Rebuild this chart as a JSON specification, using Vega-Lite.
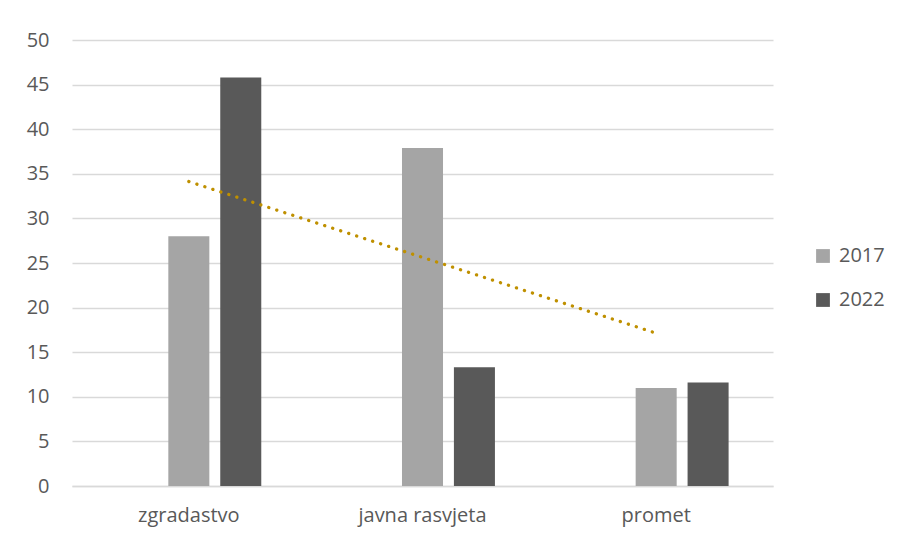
{
  "$schema": "https://vega.github.io/schema/vega-lite/v6.json",
  "width": 701,
  "height": 446,
  "autosize": {"type": "none"},
  "padding": {"left": 72, "top": 40, "right": 130, "bottom": 56},
  "background": "white",
  "config": {
    "view": {"stroke": null},
    "font": "Open Sans",
    "axis": {"labelFont": "Open Sans", "labelColor": "#595959", "labelFontSize": 20, "gridColor": "#D9D9D9", "gridWidth": 1.3, "domainColor": "#D9D9D9", "domainWidth": 1.3, "ticks": false, "title": null},
    "legend": {"labelFont": "Open Sans", "labelColor": "#595959", "labelFontSize": 20}
  },
  "datasets": {
    "bars": [
      {"cat": "zgradastvo", "year": "2017", "value": 28.0},
      {"cat": "zgradastvo", "year": "2022", "value": 45.8},
      {"cat": "javna rasvjeta", "year": "2017", "value": 37.9},
      {"cat": "javna rasvjeta", "year": "2022", "value": 13.3},
      {"cat": "promet", "year": "2017", "value": 11.0},
      {"cat": "promet", "year": "2022", "value": 11.6}
    ],
    "trend": [
      {"cat": "zgradastvo", "value": 34.13},
      {"cat": "javna rasvjeta", "value": 25.63},
      {"cat": "promet", "value": 17.13}
    ]
  },
  "layer": [
    {
      "data": {"name": "bars"},
      "mark": {"type": "bar"},
      "encoding": {
        "x": {"field": "cat", "type": "nominal", "sort": ["zgradastvo", "javna rasvjeta", "promet"],
              "scale": {"paddingInner": 0.38, "paddingOuter": 0.19},
              "axis": {"labelAngle": 0, "labelPadding": 19, "grid": false}},
        "xOffset": {"field": "year", "type": "nominal", "scale": {"domain": ["s0", "2017", "2022"], "paddingInner": 0.21, "paddingOuter": 0}},
        "y": {"field": "value", "type": "quantitative", "scale": {"domain": [0, 50]},
              "axis": {"values": [0, 5, 10, 15, 20, 25, 30, 35, 40, 45, 50], "domain": false, "labelPadding": 23, "grid": true}},
        "color": {"field": "year", "type": "nominal",
                  "scale": {"domain": ["2017", "2022"], "range": ["#A5A5A5", "#595959"]},
                  "legend": {"title": null, "orient": "none", "legendX": 741, "legendY": 206, "symbolType": "square", "symbolSize": 190, "symbolStrokeWidth": 0, "rowPadding": 24, "labelOffset": 6}}
      }
    },
    {
      "data": {"name": "trend"},
      "mark": {"type": "line", "color": "#BF9000", "strokeWidth": 3.3, "strokeDash": [0.1, 8.3], "strokeCap": "round"},
      "encoding": {
        "x": {"field": "cat", "type": "nominal", "sort": ["zgradastvo", "javna rasvjeta", "promet"]},
        "y": {"field": "value", "type": "quantitative"}
      }
    }
  ]
}
